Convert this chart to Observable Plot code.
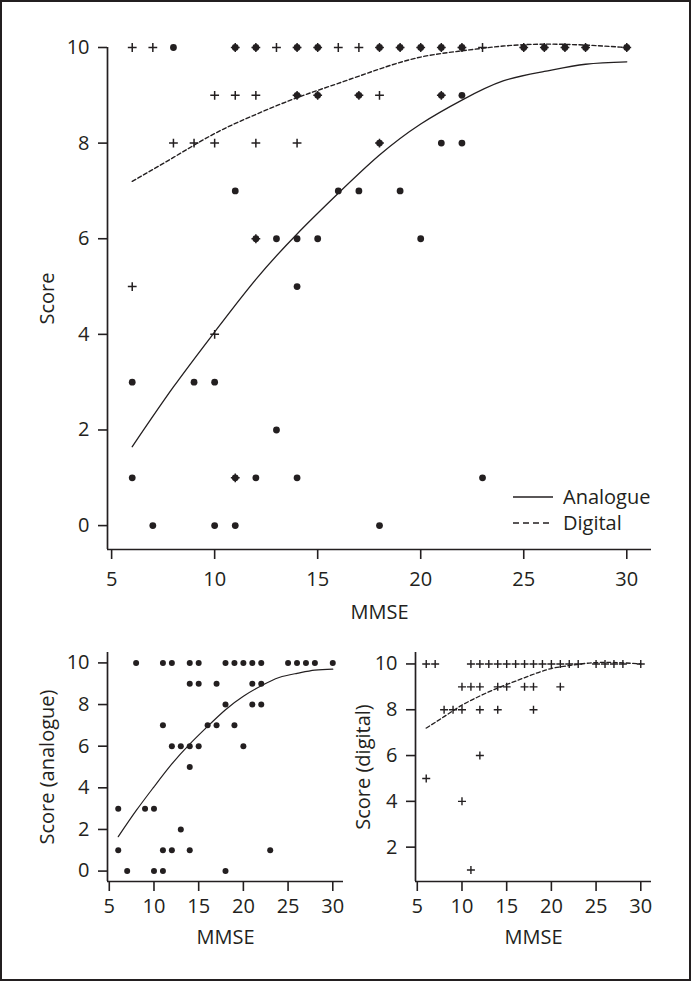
<!DOCTYPE html>
<html><head><meta charset="utf-8">
<script src="https://cdn.jsdelivr.net/npm/d3@7"></script>
<script src="https://cdn.jsdelivr.net/npm/@observablehq/plot@0.6"></script>
<style>
html,body{margin:0;padding:0;background:#fff;}
#fig{position:relative;width:691px;height:981px;overflow:hidden;font-family:"Open Sans",sans-serif;background:#fff;}
.p{position:absolute;}
.frame{position:absolute;left:0;top:0;width:691px;height:981px;box-sizing:border-box;border:2px solid #231f20;pointer-events:none;}
.legend{position:absolute;font-size:20px;color:#231f20;line-height:26px;}
.legend div{display:flex;align-items:center;}
.legend svg{margin-right:10px;}
</style></head><body><div id="fig"></div>
<script>
const ink = "#231f20";

// Analogue test scores (filled dots)
const analogueMMSE  = [8,11,12,14,15,18,19,20,21,22,25,26,27,28,30, 14,15,17,21,22, 18,21,22, 11,16,17,19, 12,13,14,15,20, 14, 6,9,10, 13, 6,11,12,14,23, 7,10,11,18];
const analogueScore = [10,10,10,10,10,10,10,10,10,10,10,10,10,10,10, 9,9,9,9,9, 8,8,8, 7,7,7,7, 6,6,6,6,6, 5, 3,3,3, 2, 1,1,1,1,1, 0,0,0,0];

// Digital test scores (plus signs)
const digitalMMSE  = [6,7,11,12,13,14,15,16,17,18,19,20,21,22,23,25,26,27,28,30, 10,11,12,14,15,17,18,21, 8,9,10,12,14,18, 12, 6, 10, 11];
const digitalScore = [10,10,10,10,10,10,10,10,10,10,10,10,10,10,10,10,10,10,10,10, 9,9,9,9,9,9,9,9, 8,8,8,8,8,8, 6, 5, 4, 1];

// Fitted curves
const fitMMSE     = [6,8,10,12,14,16,18,20,22,24,26,28,30];
const analogueFit = [1.65,2.9,4.05,5.15,6.1,6.95,7.75,8.4,8.9,9.3,9.5,9.65,9.7];
const digitalFit  = [7.2,7.7,8.2,8.6,8.95,9.25,9.55,9.8,9.93,10.03,10.07,10.05,10.0];

const xTicks = [5,10,15,20,25,30];
const xDomain = [4.8, 31.2];
const yTicksFull = [0,2,4,6,8,10];
const yTicksDigital = [2,4,6,8,10];

const analogue = analogueMMSE.map((x,i)=>({x, y: analogueScore[i]}));
const digital  = digitalMMSE.map((x,i)=>({x, y: digitalScore[i]}));
const aFit = fitMMSE.map((x,i)=>({x, y: analogueFit[i]}));
const dFit = fitMMSE.map((x,i)=>({x, y: digitalFit[i]}));

const plusSymbol = {
  draw(ctx, size) {
    const r = Math.sqrt(size / Math.PI);
    ctx.moveTo(-r, 0); ctx.lineTo(r, 0);
    ctx.moveTo(0, -r); ctx.lineTo(0, r);
  }
};

function panel(o) {
  const marks = [
    Plot.ruleY([o.yDomain[0]], {stroke: ink, strokeWidth: 1.7}),
    Plot.ruleX([xDomain[0]], {stroke: ink, strokeWidth: 1.7}),
    Plot.axisX({ticks: xTicks, tickSize: 10, tickPadding: o.xpad, strokeWidth: 1.6, label: null, fontSize: o.fs}),
    Plot.axisY({ticks: o.yTicks, tickSize: 9, tickPadding: 9, strokeWidth: 1.6, label: null, fontSize: o.fs}),
    Plot.text([o.ylabel], {frameAnchor: "left", rotate: -90, dx: o.ylabelDx, textAnchor: "middle", lineAnchor: "middle", fontSize: o.fs}),
    Plot.text(["MMSE"], {frameAnchor: "bottom", dy: o.xlabelDy, textAnchor: "middle", lineAnchor: "middle", fontSize: o.fs}),
    ...o.marks
  ];
  const svg = Plot.plot({
    width: o.width, height: o.height,
    marginLeft: o.ml, marginRight: o.mr, marginTop: o.mt, marginBottom: o.mb,
    x: {domain: xDomain},
    y: {domain: o.yDomain},
    style: {color: ink, fontFamily: '"Open Sans", sans-serif', fontSize: o.fs + "px", background: "transparent", overflow: "visible"},
    marks
  });
  svg.classList.add("p");
  svg.style.left = o.left + "px";
  svg.style.top = o.top + "px";
  return svg;
}

const fig = document.getElementById("fig");

const dotA = (r) => Plot.dot(analogue, {x: "x", y: "y", r, fill: ink, stroke: "none"});
const plusD = (r, sw) => Plot.dot(digital, {x: "x", y: "y", r, symbol: plusSymbol, fill: "none", stroke: ink, strokeWidth: sw});
const lineA = Plot.line(aFit, {x: "x", y: "y", curve: "natural", stroke: ink, strokeWidth: 1.3});
const lineD = Plot.line(dFit, {x: "x", y: "y", curve: "natural", stroke: ink, strokeWidth: 1.4, strokeDasharray: "4,2.5"});

// Main chart
fig.appendChild(panel({
  left: 0, top: 0, width: 691, height: 640,
  ml: 107, mr: 40, mt: 47, mb: 91,
  yDomain: [-0.5, 10], yTicks: yTicksFull, fs: 20, xpad: 12,
  ylabel: "Score", ylabelDx: -60, xlabelDy: 63,
  marks: [lineD, lineA, dotA(3.4), plusD(4.4, 1.5)]
}));

// Bottom-left: analogue
fig.appendChild(panel({
  left: 0, top: 630, width: 355, height: 340,
  ml: 107, mr: 12, mt: 22, mb: 89,
  yDomain: [-0.5, 10.5], yTicks: yTicksFull, fs: 20, xpad: 7,
  ylabel: "Score (analogue)", ylabelDx: -60, xlabelDy: 56,
  marks: [Plot.line(aFit, {x: "x", y: "y", curve: "natural", stroke: ink, strokeWidth: 1.2}), dotA(3)]
}));

// Bottom-right: digital
fig.appendChild(panel({
  left: 355, top: 630, width: 336, height: 340,
  ml: 60, mr: 40, mt: 22, mb: 89,
  yDomain: [0.5, 10.5], yTicks: yTicksDigital, fs: 20, xpad: 7,
  ylabel: "Score (digital)", ylabelDx: -52, xlabelDy: 56,
  marks: [Plot.line(dFit, {x: "x", y: "y", curve: "natural", stroke: ink, strokeWidth: 1.3, strokeDasharray: "4,2.5"}), plusD(4, 1.4)]
}));

// Legend
const legend = document.createElement("div");
legend.className = "legend";
legend.style.left = "513px";
legend.style.top = "484px";
legend.innerHTML =
  '<div><svg width="40" height="10"><line x1="0" x2="40" y1="5" y2="5" stroke="' + ink + '" stroke-width="1.4"/></svg>Analogue</div>' +
  '<div><svg width="40" height="10"><line x1="0" x2="40" y1="5" y2="5" stroke="' + ink + '" stroke-width="1.4" stroke-dasharray="6,4"/></svg>Digital</div>';
fig.appendChild(legend);

const frame = document.createElement("div");
frame.className = "frame";
fig.appendChild(frame);
</script>
</body></html>
